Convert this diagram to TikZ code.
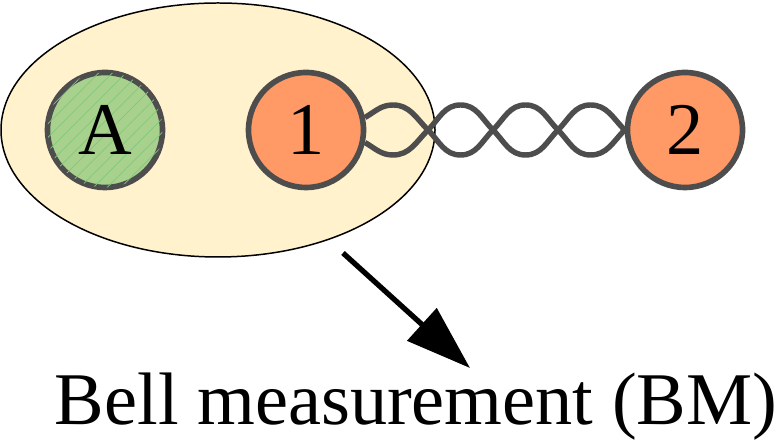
\documentclass[tikz,border=0pt]{standalone}
\usepackage{fontspec}
\setmainfont{Liberation Serif}
\usetikzlibrary{arrows.meta,backgrounds,patterns.meta}
\definecolor{pairgray}{HTML}{4D4D4D}
\definecolor{zonefill}{HTML}{FFF2CC}
\definecolor{alicefill}{HTML}{A9D18E}
\definecolor{alicehatch}{HTML}{7FC97A}
\definecolor{qubitfill}{HTML}{FF9966}
\begin{document}
\begin{tikzpicture}[every node/.style={font=\fontsize{42.3}{48}\selectfont},
    qubit/.style={circle, draw=pairgray, line width=3.2pt, minimum size=2.3cm, inner sep=0pt},
    strand/.style={draw=pairgray, line width=3.1pt}]
    \useasboundingbox (0,0) rectangle (15.6,8.9);

    % --- QUBITS ---
    \node[qubit, fill=alicefill,
          postaction={pattern={Lines[angle=45,distance=5.5pt,line width=0.4pt]}, pattern color=alicehatch}]
          (A) at (2.1,6.3) {A};
    \node[qubit, fill=qubitfill] (one) at (6.12,6.3) {1};
    \node[qubit, fill=qubitfill] (two) at (13.7,6.3) {2};

    \begin{scope}[on background layer]
        % --- BELL MEASUREMENT REGION ---
        \draw[fill=zonefill, line width=0.85pt] (4.36,6.3) ellipse [x radius=4.34, y radius=2.54];

        % --- ENTANGLED PAIR 1--2 ---
        \draw[strand] (one.12) to[out=30,in=180] (7.86,6.8) to[out=0,in=135] (8.56,6.3)
            to[out=-45,in=180] (9.21,5.8) to[out=0,in=-135] (9.86,6.3)
            to[out=45,in=180] (10.51,6.8) to[out=0,in=135] (11.16,6.3)
            to[out=-45,in=180] (11.81,5.8) to[out=0,in=-135] (two.west);
        \draw[strand] (one.-12) to[out=-30,in=180] (7.86,5.8) to[out=0,in=-135] (8.56,6.3)
            to[out=45,in=180] (9.21,6.8) to[out=0,in=135] (9.86,6.3)
            to[out=-45,in=180] (10.51,5.8) to[out=0,in=-135] (11.16,6.3)
            to[out=45,in=180] (11.81,6.8) to[out=0,in=135] (two.west);
    \end{scope}

    % --- ARROW AND LABEL ---
    \coordinate (bmstart) at (6.86,3.84);
    \coordinate (bmtip) at (9.4,1.54);
    \draw[line width=3pt, -{Triangle[length=1.3cm,width=0.86cm]}] (bmstart) -- (bmtip);
    \node[anchor=base] (bmlabel) at (8.32,0.4) {Bell measurement (BM)};
\end{tikzpicture}
\end{document}
